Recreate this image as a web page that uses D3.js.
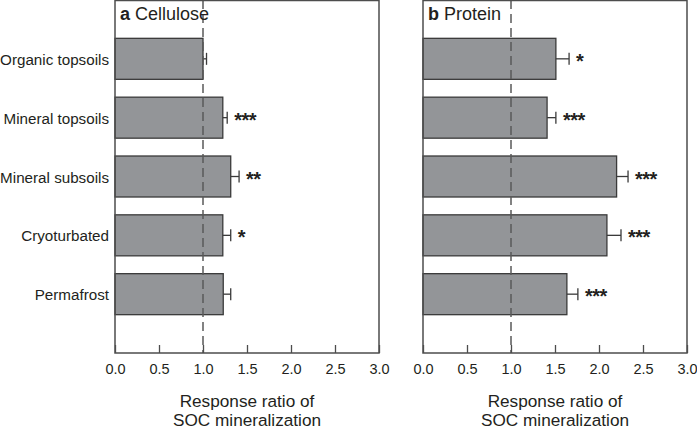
<!DOCTYPE html>
<html><head><meta charset="utf-8">
<script src="https://cdn.jsdelivr.net/npm/d3@7"></script>
<style>body{margin:0;background:#fff}svg{display:block}text{font-family:"Liberation Sans",Arial,sans-serif;fill:#231f20}</style>
</head><body>
<script>
const categories = ["Organic topsoils","Mineral topsoils","Mineral subsoils","Cryoturbated","Permafrost"];
const cellulose = [1.00, 1.225, 1.315, 1.225, 1.23];
const celluloseErr = [0.04, 0.05, 0.095, 0.09, 0.085];
const celluloseSig = ["", "***", "**", "*", ""];
const protein = [1.51, 1.41, 2.20, 2.09, 1.635];
const proteinErr = [0.15, 0.10, 0.13, 0.16, 0.125];
const proteinSig = ["*", "***", "***", "***", "***"];
const xTicks = [0,0.5,1,1.5,2,2.5,3];
const panels = [
  {letter:"a", name:"Cellulose", vals:cellulose, err:celluloseErr, sig:celluloseSig, x0:115, x1:379},
  {letter:"b", name:"Protein", vals:protein, err:proteinErr, sig:proteinSig, x0:423, x1:687}
];

const W=697,H=430, plotTop=0, plotBottom=353;
const svg=d3.select("body").append("svg").attr("width",W).attr("height",H);
const y=d3.scaleLinear().domain([0,categories.length+1]).range([plotTop,plotBottom]);
const barH=41;
const fmt=d3.format(".1f");

panels.forEach((p,pi)=>{
  const x=d3.scaleLinear().domain([0,3]).range([p.x0,p.x1]);
  const g=svg.append("g");
  // bars
  g.selectAll("rect.bar").data(p.vals).join("rect")
    .attr("x",x(0)).attr("y",(d,i)=>y(i+1)-barH/2)
    .attr("width",d=>x(d)-x(0)).attr("height",barH)
    .attr("fill","#939598").attr("stroke","#3a3a3a").attr("stroke-width",1.3);
  // error bars
  p.vals.forEach((v,i)=>{
    const cy=y(i+1), xe=x(v+p.err[i]);
    g.append("line").attr("x1",x(v)).attr("x2",xe).attr("y1",cy).attr("y2",cy).attr("stroke","#3a3a3a").attr("stroke-width",1.3);
    g.append("line").attr("x1",xe).attr("x2",xe).attr("y1",cy-6).attr("y2",cy+6).attr("stroke","#3a3a3a").attr("stroke-width",1.3);
    if(p.sig[i]) g.append("text").attr("x",xe+7).attr("y",cy+9).attr("font-size",20).attr("font-weight","bold").attr("letter-spacing",-0.5).text(p.sig[i]);
  });
  // dashed reference line
  g.append("line").attr("x1",x(1)).attr("x2",x(1)).attr("y1",plotTop).attr("y2",plotBottom)
    .attr("stroke","#5a5a5a").attr("stroke-width",1.5).attr("stroke-dasharray","9,5");
  // frame
  g.append("rect").attr("x",p.x0).attr("y",plotTop+0.5).attr("width",p.x1-p.x0).attr("height",plotBottom-plotTop-0.5)
    .attr("fill","none").attr("stroke","#4d4d4d").attr("stroke-width",1.5);
  // axis
  const ax=g.append("g").attr("transform",`translate(0,${plotBottom})`)
    .call(d3.axisBottom(x).tickValues(xTicks).tickFormat(fmt).tickSizeInner(-8).tickSizeOuter(0).tickPadding(11));
  ax.select(".domain").remove();
  ax.selectAll(".tick line").attr("stroke","#4d4d4d").attr("stroke-width",1.3);
  ax.selectAll(".tick text").attr("font-size",14.5).attr("font-family","Liberation Sans, Arial, sans-serif").attr("fill","#231f20");
  // title
  const t=g.append("text").attr("x",p.x0+5).attr("y",19.5).attr("font-size",18);
  t.append("tspan").attr("font-weight","bold").text(p.letter);
  t.append("tspan").text(" "+p.name);
  // axis title
  const cx=(p.x0+p.x1)/2;
  g.append("text").attr("x",cx).attr("y",407).attr("text-anchor","middle").attr("font-size",17.2).text("Response ratio of");
  g.append("text").attr("x",cx).attr("y",425.5).attr("text-anchor","middle").attr("font-size",17.2).text("SOC mineralization");
});

// category labels
svg.selectAll("text.cat").data(categories).join("text").attr("class","cat")
  .attr("x",109).attr("y",(d,i)=>y(i+1)+6).attr("text-anchor","end").attr("font-size",15.2).text(d=>d);
</script>
</body></html>
